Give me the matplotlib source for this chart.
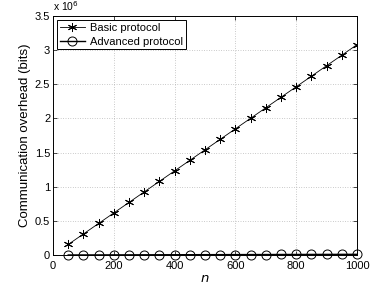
import matplotlib
matplotlib.use("Agg")
import matplotlib.pyplot as plt
from matplotlib.ticker import FuncFormatter

plt.rcParams['font.family'] = ['Liberation Sans', 'DejaVu Sans']
plt.rcParams['font.size'] = 8

n = [50, 100, 150, 200, 250, 300, 350, 400, 450, 500,
     550, 600, 650, 700, 750, 800, 850, 900, 950, 1000]
basic = [0.154, 0.308, 0.462, 0.616, 0.770, 0.924, 1.078, 1.232, 1.386, 1.540,
         1.694, 1.848, 2.002, 2.156, 2.310, 2.464, 2.618, 2.772, 2.926, 3.080]
advanced = [0.0005, 0.0010, 0.0015, 0.0020, 0.0025, 0.0030, 0.0035, 0.0040, 0.0045, 0.0050,
            0.0055, 0.0060, 0.0065, 0.0070, 0.0075, 0.0080, 0.0085, 0.0090, 0.0095, 0.0100]
basic = [v * 1e6 for v in basic]
advanced = [v * 1e6 for v in advanced]

fig = plt.figure(figsize=(3.8, 2.88), dpi=100)
ax = fig.add_axes([53 / 380, 33 / 288, 304 / 380, 239 / 288])

ax.plot(n, basic, color='black', lw=0.6, marker=(6, 2, 0), ms=6.5, mew=0.7,
        label='Basic protocol')
ax.plot(n, advanced, color='black', lw=1.0, marker='o', ms=6.5, mew=0.7,
        mfc='none', label='Advanced protocol', clip_on=False)

ax.set_xlim(0, 1000)
ax.set_ylim(0, 3.5e6)
ax.set_xticks([0, 200, 400, 600, 800, 1000])
ax.set_yticks([0, 0.5e6, 1e6, 1.5e6, 2e6, 2.5e6, 3e6, 3.5e6])
ax.yaxis.set_major_formatter(FuncFormatter(lambda v, p: '%g' % (v / 1e6)))
ax.tick_params(direction='in', length=3, width=0.5, top=True, right=True)
ax.tick_params(axis='x', pad=4)
ax.tick_params(axis='y', pad=2)
ax.grid(True, linestyle=(0, (1, 2.5)), color='#999999', lw=0.5)
for s in ax.spines.values():
    s.set_linewidth(0.7)

ax.text(0.0, 1.012, r'x 10$^6$', transform=ax.transAxes, ha='left', va='bottom', fontsize=7.5)
ax.set_xlabel('$n$', labelpad=1.5, fontsize=9.5)
ax.set_ylabel('Communication overhead (bits)', labelpad=3, fontsize=9.5)

leg = ax.legend(loc='upper left', fancybox=False, edgecolor='black', framealpha=1,
                borderpad=0.25, labelspacing=0.35, handlelength=2.3, handletextpad=0.45,
                borderaxespad=0.35)
leg.get_frame().set_linewidth(0.7)

fig.savefig('out.png', dpi=100)
